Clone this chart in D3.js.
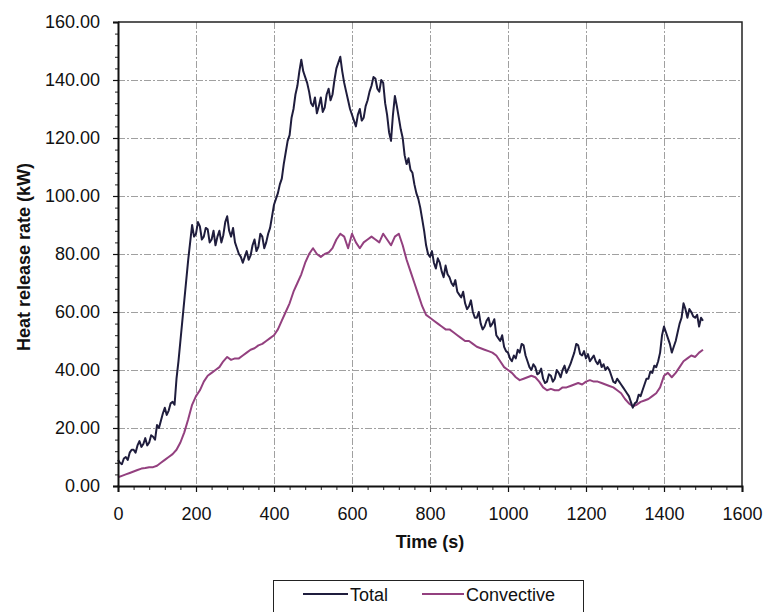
<!DOCTYPE html>
<html>
<head>
<meta charset="utf-8">
<script src="https://cdn.jsdelivr.net/npm/d3@7"></script>
<style>
  html, body { margin: 0; padding: 0; background: #fff; }
  svg { display: block; font-family: "Liberation Sans", Arial, sans-serif; }
</style>
</head>
<body>
<svg id="chart" width="767" height="612"></svg>
<script>
// Sampling intervals (s)
const totalStep = 5;
const convectiveStep = 10;

// Total heat release rate (kW), one row per 100 s
const totalHRR = [
  9, 8, 7.5, 9.5, 10, 9, 11.5, 12.5, 12.5, 11.5, 14, 15.5, 13.5, 14.5, 16.5, 14, 15, 17.5, 17, 16,
  21, 20, 22.5, 25, 27, 24.5, 26, 28.5, 29, 28, 37, 43, 50, 57, 64, 71, 78, 84, 90, 86,
  87, 91, 89.5, 85, 86, 89, 88.5, 84, 85, 88, 83, 86, 88, 84, 86.5, 91, 93, 88, 86, 89,
  84, 82, 80, 79, 77, 79, 81, 78, 79.5, 83, 85, 81, 82.5, 87, 86, 82, 84, 87, 89, 93,
  97, 99, 101, 104, 106, 111, 115, 119, 121, 127, 130, 135, 138, 143, 147, 143, 141, 139, 136, 132,
  131, 134, 128.5, 131, 134, 129, 130.5, 135, 137, 133, 135, 140, 144, 146, 148, 143, 139, 136, 133, 130,
  128, 126, 124, 128, 130, 126, 127, 131, 133, 136, 138, 141, 140.5, 137, 136, 140, 139, 132, 128, 122,
  119, 128, 134.5, 131, 127, 123, 120, 114, 111, 113, 109, 108, 104, 101, 99, 96, 92, 88, 83, 80,
  79, 81, 77, 75, 78.5, 77, 74, 72, 76, 73, 72, 70, 69, 71, 67, 66, 65, 67, 63, 61,
  62, 64, 60, 58, 58, 60, 56, 54, 55, 57, 58, 55, 56, 57.5, 52, 51, 50, 52, 48, 46.5,
  46, 44, 43, 45, 44, 47, 46, 49, 48.5, 45, 43, 41, 40, 42, 41, 38.5, 39, 40.5, 37, 35.5,
  36, 38.5, 38, 36, 37, 40, 39, 37.5, 40, 41.5, 39, 40.5, 42, 44, 46, 49, 48.5, 45.5, 45, 46.5,
  44, 45.5, 43, 44, 45, 43, 42, 43.5, 41, 42, 40, 41, 40, 38, 36, 35.5, 37, 36, 35, 34,
  33, 32, 31, 29, 27, 28.5, 29, 31.5, 31, 33, 35, 37, 37, 39.5, 39, 41.5, 41, 43, 46, 52,
  55, 53, 51, 49, 46, 48, 50, 53, 56, 58, 63, 61, 58, 61, 60, 58.5, 58, 59, 55, 58,
  57
];

// Convective heat release rate (kW), one row per 100 s
const convectiveHRR = [
  3, 3.5, 4, 4.5, 5, 5.5, 6, 6.2, 6.5, 6.5,
  7, 8, 9, 10, 11, 12.5, 15, 18.5, 23, 28,
  31, 33, 36, 38, 39, 40, 41, 43, 44.5, 43.5,
  44, 44, 45, 46, 47, 47.5, 48.5, 49, 50, 51,
  52, 54, 57, 60, 63, 67, 70, 73, 77, 80,
  82, 80, 79, 80, 80.5, 82, 85, 87, 86, 82,
  87, 84, 82, 84, 85, 86, 85, 84, 87, 85,
  83, 86, 87, 83, 78, 74, 70, 66, 62, 59,
  58, 57, 56, 55, 54, 54, 53, 52, 51, 50,
  50, 49, 48, 47.5, 47, 46.5, 46, 45, 43, 41,
  40, 39, 37.5, 36.5, 37, 37.5, 38, 37.5, 36, 34,
  33, 33.5, 33, 33, 34, 34, 34.5, 35, 35.5, 35,
  36, 36.5, 36, 36, 35.5, 35, 34.5, 34, 33, 32,
  30, 28.5, 27.5, 28, 29, 29.5, 30, 31, 32, 34,
  38, 39, 37.5, 39, 41, 43, 44, 45, 44.5, 46,
  47
];

// Axis ticks and legend entries
const xTicks = [0, 200, 400, 600, 800, 1000, 1200, 1400, 1600];
const yTicks = [0, 20, 40, 60, 80, 100, 120, 140, 160];
const seriesNames = ["Total", "Convective"];
const seriesColors = ["#1f1d3d", "#93407f"];

const svg = d3.select("#chart");
const plot = { left: 118, right: 742, top: 22, bottom: 486 };

const x = d3.scaleLinear().domain([0, 1600]).range([plot.left, plot.right]);
const y = d3.scaleLinear().domain([0, 160]).range([plot.bottom, plot.top]);

// Gridlines
const grid = svg.append("g").attr("class", "grid")
  .attr("stroke", "#a0a0a0").attr("stroke-width", 1).attr("stroke-dasharray", "7,2,2,2");
grid.selectAll("line.h").data(yTicks.filter(v => v > 0 && v < 160)).join("line")
  .attr("x1", plot.left).attr("x2", plot.right)
  .attr("y1", d => y(d) + 0.5).attr("y2", d => y(d) + 0.5);
grid.selectAll("line.v").data(xTicks.filter(v => v > 0 && v < 1600)).join("line")
  .attr("y1", plot.top).attr("y2", plot.bottom)
  .attr("x1", d => x(d) + 0.5).attr("x2", d => x(d) + 0.5);

// Top and right frame
svg.append("path")
  .attr("d", `M${plot.left},${plot.top}H${plot.right}V${plot.bottom}`)
  .attr("fill", "none").attr("stroke", "#222").attr("stroke-width", 1.5);

// Series lines
const toPoints = (arr, step) => arr.map((v, i) => [i * step, v]);
const line = d3.line().x(d => x(d[0])).y(d => y(d[1]));
svg.append("path")
  .datum(toPoints(convectiveHRR, convectiveStep))
  .attr("fill", "none").attr("stroke", seriesColors[1])
  .attr("stroke-width", 2).attr("stroke-linejoin", "round")
  .attr("d", line);
svg.append("path")
  .datum(toPoints(totalHRR, totalStep))
  .attr("fill", "none").attr("stroke", seriesColors[0])
  .attr("stroke-width", 2).attr("stroke-linejoin", "round")
  .attr("d", line);

// Minor ticks
svg.append("g").attr("transform", `translate(${plot.left},0)`)
  .call(d3.axisLeft(y).tickValues(d3.range(0, 161, 4)).tickSize(3).tickFormat(""))
  .call(g => g.select(".domain").remove())
  .call(g => g.selectAll("line").attr("stroke", "#222"));
svg.append("g").attr("transform", `translate(0,${plot.bottom})`)
  .call(d3.axisBottom(x).tickValues(d3.range(0, 1601, 40)).tickSize(4).tickFormat(""))
  .call(g => g.select(".domain").remove())
  .call(g => g.selectAll("line").attr("stroke", "#222"));

// Major axes
const yAxis = svg.append("g").attr("transform", `translate(${plot.left},0)`)
  .call(d3.axisLeft(y).tickValues(yTicks).tickSize(5).tickPadding(13).tickFormat(d3.format(".2f")));
const xAxis = svg.append("g").attr("transform", `translate(0,${plot.bottom})`)
  .call(d3.axisBottom(x).tickValues(xTicks).tickSize(6).tickPadding(15).tickFormat(d3.format("d")));
[yAxis, xAxis].forEach(g => {
  g.select(".domain").attr("stroke", "#111").attr("stroke-width", 2);
  g.selectAll(".tick line").attr("stroke", "#111").attr("stroke-width", 1.2);
  g.selectAll(".tick text").attr("fill", "#111")
    .style("font-size", "18px").style("font-family", '"Liberation Sans", Arial, sans-serif');
});

// Axis titles
svg.append("text")
  .attr("x", (plot.left + plot.right) / 2).attr("y", 548)
  .attr("text-anchor", "middle").attr("font-size", 18).attr("font-weight", "bold").attr("fill", "#111")
  .text("Time (s)");
svg.append("text")
  .attr("transform", `translate(30,${(plot.top + plot.bottom) / 2 + 3}) rotate(-90)`)
  .attr("text-anchor", "middle").attr("font-size", 18).attr("font-weight", "bold").attr("fill", "#111")
  .text("Heat release rate (kW)");

// Legend
const legend = svg.append("g");
legend.append("rect")
  .attr("x", 273.5).attr("y", 580.5).attr("width", 310).attr("height", 45)
  .attr("fill", "#fff").attr("stroke", "#222").attr("stroke-width", 1);
const legendItems = [
  { name: seriesNames[0], color: seriesColors[0], x1: 303, x2: 348, tx: 350 },
  { name: seriesNames[1], color: seriesColors[1], x1: 422, x2: 464, tx: 466 }
];
legendItems.forEach(it => {
  legend.append("line").attr("x1", it.x1).attr("x2", it.x2).attr("y1", 594).attr("y2", 594)
    .attr("stroke", it.color).attr("stroke-width", 2);
  legend.append("text").attr("x", it.tx).attr("y", 600.5)
    .attr("font-size", 18).attr("fill", "#111").text(it.name);
});
</script>
</body>
</html>
